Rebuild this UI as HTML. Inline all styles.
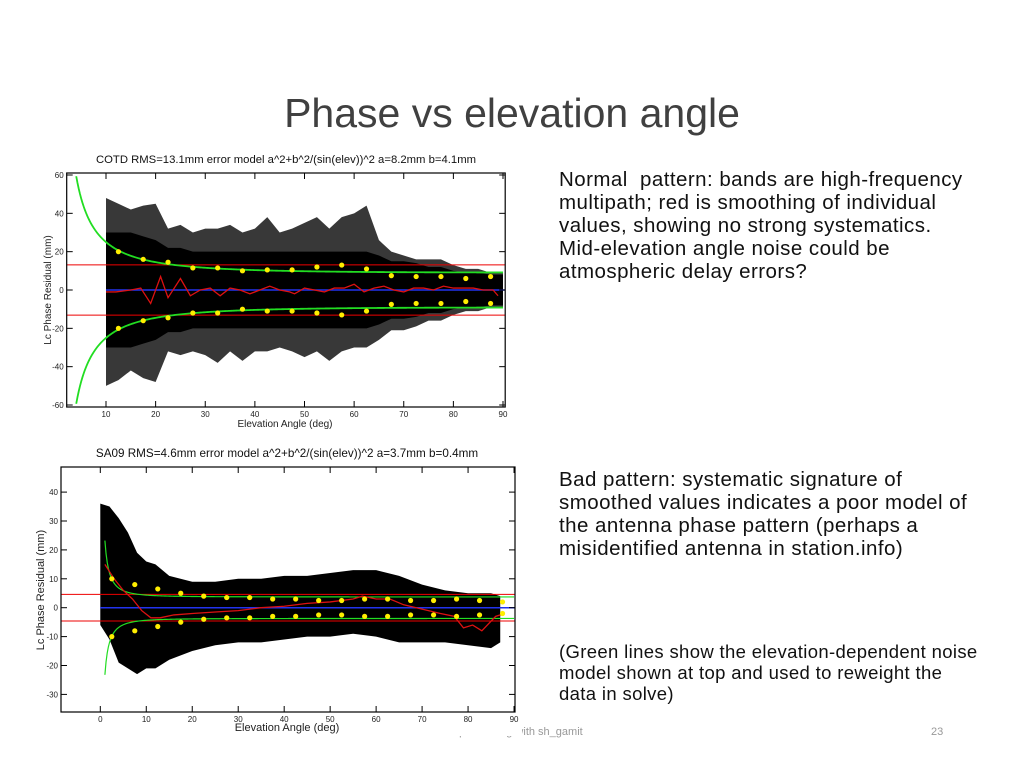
<!DOCTYPE html>
<html><head><meta charset="utf-8">
<style>
body{margin:0;background:#fff;}
#slide{position:relative;width:1024px;height:768px;overflow:hidden;background:#fff;font-family:"Liberation Sans",sans-serif;}
.title{position:absolute;left:0;width:1024px;top:90px;text-align:center;font-size:41px;color:#404040;}
.txt{position:absolute;left:559px;color:#111;font-size:20.5px;letter-spacing:0.45px;line-height:23px;width:415px;}
.foot{position:absolute;top:726px;font-size:11px;color:#999;}
svg{position:absolute;left:0;top:0;}
</style></head>
<body>
<div id="slide">
<div class="title">Phase vs elevation angle</div>
<div class="txt" style="top:168px">Normal&nbsp; pattern: bands are high-frequency multipath; red is smoothing of individual values, showing no strong systematics. Mid-elevation angle noise could be atmospheric delay errors?</div>
<div class="txt" style="top:468px">Bad pattern: systematic signature of smoothed values indicates a poor model of the antenna phase pattern (perhaps a misidentified antenna in station.info)</div>
<div class="txt" style="top:641px;font-size:18.5px;letter-spacing:0.35px;line-height:21px;width:421px">(Green lines show the elevation-dependent noise model shown at top and used to reweight the data in solve)</div>
<div class="foot" style="left:80px">2016/02/27</div>
<div class="foot" style="left:428px">Batch processing with sh_gamit</div>
<div class="foot" style="left:931px">23</div>
<svg id="chart" width="1024" height="768"></svg>
</div>
<script>
// ---- top chart (COTD) data ----
const topElev = [10,12.5,15,17.5,20,22.5,25,27.5,30,32.5,35,37.5,40,42.5,45,47.5,50,52.5,55,57.5,60,62.5,65,67.5,70,72.5,75,77.5,80,82.5,85,87.5,90];
const topUpper = [48,45,42,44,45,32,34,30,32,32,34,30,32,38,30,32,35,38,32,38,40,44,26,20,18,16,16,16,13,11,11,9,9];
const topLower = [-50,-47,-42,-46,-48,-32,-34,-32,-34,-38,-32,-37,-32,-32,-30,-32,-35,-32,-37,-32,-30,-30,-26,-21,-21,-19,-16,-16,-13,-11,-11,-9,-9];
const topInner = [30,30,30,28,26,22,22,20,20,20,20,20,20,20,20,20,20,20,20,20,20,20,18,15,15,14,12,12,10,9,9,8,8];
const topSmoothE = [10,12,15,17,19,21,22.5,25,27,29,31,33,35,37,39,41,43,45,47,48,50,52,54,56,58,60,62,64,66,68,70,72,74,76,78,80,82,84,86,88,89];
const topSmoothV = [-1,-1,0,1,-7,7,-4,6,-3,0,1,-3,1,0,-2,0,2,0,-1,-2,1,0,-1,1,1,3,-1,1,2,0,-1,1,1,0,2,1,1,1,0,0,-3];
const topYelE = [12.5,17.5,22.5,27.5,32.5,37.5,42.5,47.5,52.5,57.5,62.5,67.5,72.5,77.5,82.5,87.5];
const topYelUp = [20,16,14.5,11.5,11.5,10,10.5,10.5,12,13,11,7.5,7,7,6,7];
const topYelLo = [-20,-16,-14.5,-12,-12,-10,-11,-11,-12,-13,-11,-7.5,-7,-7,-6,-7];
const topYTicks = [-60,-40,-20,0,20,40,60];
const topXTicks = [10,20,30,40,50,60,70,80,90];
const topModel = {a:8.2,b:4.1,rms:13.1};
// ---- bottom chart (SA09) data ----
const botElev = [0,2,4,6,8,10,12,15,20,25,30,35,40,45,50,55,60,65,70,75,80,85,87];
const botUpper = [36,35,31,26,19,16,15,11,9,9,10,10,11,11,12,13,13,11,8,6,5,5,4];
const botLower = [-6,-11,-19,-21,-23,-21,-21,-18,-15,-13,-12,-12,-11,-10,-10,-9,-10,-12,-12,-12,-13,-14,-12];
const botSmoothE = [1,3,5,7,9,11,13,16,20,25,30,35,40,45,50,55,57,60,63,66,70,74,77,79,81,83,86,88];
const botSmoothV = [15,10,6,3,-1,-3.5,-3.5,-2.5,-2,-1.5,-1,0,0.5,1.5,2,3,4,3,3,1,-0.5,-2,-3,-7,-6,-8,-3,-2];
const botYelE = [2.5,7.5,12.5,17.5,22.5,27.5,32.5,37.5,42.5,47.5,52.5,57.5,62.5,67.5,72.5,77.5,82.5,87.5];
const botYelUp = [10,8,6.5,5,4,3.5,3.5,3,3,2.5,2.5,3,3,2.5,2.5,3,2.5,2];
const botYelLo = [-10,-8,-6.5,-5,-4,-3.5,-3.5,-3,-3,-2.5,-2.5,-3,-3,-2.5,-2.5,-3,-2.5,-2];
const botYTicks = [-30,-20,-10,0,10,20,30,40];
const botXTicks = [0,10,20,30,40,50,60,70,80,90];
const botModel = {a:3.7,b:0.4,rms:4.6};

const NS='http://www.w3.org/2000/svg';
const svg=document.getElementById('chart');
function mk(tag,attrs,parent){const e=document.createElementNS(NS,tag);for(const k in attrs)e.setAttribute(k,attrs[k]);(parent||svg).appendChild(e);return e;}

function drawChart(o){
  const g=mk('g',{});
  
  
  const bg=mk('rect',{x:o.bx,y:o.by,width:o.bw,height:o.bh,fill:'#fff'},g);
  
  
  const X=e=>o.x0+(e-o.e0)*o.xs, Y=v=>o.y0-v*o.ys;
  let p=o.elev.map((e,i)=>X(e)+','+Y(o.up[i])).join(' ')+' '+o.elev.slice().reverse().map((e,i)=>X(e)+','+Y(o.lo[o.lo.length-1-i])).join(' ');
  const outer=mk('polygon',{points:p,fill:'#000','fill-opacity':o.outerOp},g);
  
  
  if(o.inner){
    p=o.elev.map((e,i)=>X(e)+','+Y(o.inner[i])).join(' ')+' '+o.elev.slice().reverse().map((e,i)=>X(e)+','+Y(-o.inner[o.inner.length-1-i])).join(' ');
    const inn=mk('polygon',{points:p,fill:'#000'},g);
    
    
  }
  [o.model.rms,-o.model.rms].forEach(r=>{
    const l=mk('line',{x1:o.fx,x2:o.fx+o.fw,y1:Y(r),y2:Y(r),stroke:'#e00','stroke-width':1},g);
    
    
  });
  const z=mk('line',{x1:X(o.zeroStart),x2:o.fx+o.fw,y1:Y(0),y2:Y(0),stroke:'#2233ee','stroke-width':1.5},g);
  
  
  [1,-1].forEach(s=>{
    const pts=[];
    for(let e=o.gStart;e<=90;e+=0.25){const v=s*Math.sqrt(o.model.a**2+(o.model.b/Math.sin(e*Math.PI/180))**2);if(Math.abs(v)<=Math.abs(o.vclip))pts.push(X(e)+','+Y(v));}
    const pl=mk('polyline',{points:pts.join(' '),fill:'none',stroke:'#22dd22','stroke-width':o.gw},g);
    
    
  });
  const sm=mk('polyline',{points:o.sE.map((e,i)=>X(e)+','+Y(o.sV[i])).join(' '),fill:'none',stroke:'#dd1111','stroke-width':1.3},g);
  
  
  o.yE.forEach((e,i)=>{
    [o.yU[i],o.yL[i]].forEach(v=>{
      const c=mk('circle',{cx:X(e),cy:Y(v),r:2.6,fill:'#ffee00'},g);
      
      
    });
  });
  const fr=mk('rect',{x:o.fx,y:o.fy,width:o.fw,height:o.fh,fill:'none',stroke:'#000','stroke-width':1.2},g);
  
  
  o.yt.forEach(v=>{
    mk('line',{x1:o.fx,x2:o.fx+6,y1:Y(v),y2:Y(v),stroke:'#000'},g);
    mk('line',{x1:o.fx+o.fw-6,x2:o.fx+o.fw,y1:Y(v),y2:Y(v),stroke:'#000'},g);
    const t=mk('text',{x:o.fx-3,y:Y(v)+3,'text-anchor':'end','font-size':8,fill:'#222'},g);
    t.textContent=v;
    
    
  });
  o.xt.forEach(e=>{
    mk('line',{x1:X(e),x2:X(e),y1:o.fy+o.fh,y2:o.fy+o.fh-6,stroke:'#000'},g);
    mk('line',{x1:X(e),x2:X(e),y1:o.fy,y2:o.fy+6,stroke:'#000'},g);
    const t=mk('text',{x:X(e),y:o.fy+o.fh+10,'text-anchor':'middle','font-size':8,fill:'#222'},g);
    t.textContent=e;
    
    
  });
  const xt=mk('text',{x:o.xlx,y:o.fy+o.fh+o.xld,'text-anchor':'middle','font-size':o.lfs,fill:'#222'},g);
  xt.textContent='Elevation Angle (deg)';
  
  
  const yt=mk('text',{x:0,y:0,'text-anchor':'middle','font-size':o.lfs,fill:'#222',transform:`translate(${o.ylx},${o.yly}) rotate(-90)`},g);
  yt.textContent='Lc Phase Residual (mm)';
  
  
  const tt=mk('text',{x:o.tx,y:o.ty,'text-anchor':'middle','font-size':o.tfs,fill:'#111'},g);
  tt.textContent=o.title;
  
  
}

drawChart({name:'cotd-chart',bx:40,by:150,bw:476,bh:290,
  x0:106,e0:10,xs:4.9625,y0:290,ys:1.9167,vmin:-60,vmax:60,vclip:60,
  fx:66.7,fy:173,fw:438.5,fh:234,
  elev:topElev,up:topUpper,lo:topLower,inner:topInner,outerOp:0.78,
  model:topModel,zeroStart:10,gStart:4,gw:1.8,
  sE:topSmoothE,sV:topSmoothV,yE:topYelE,yU:topYelUp,yL:topYelLo,
  yt:topYTicks,xt:topXTicks,xlx:285,xld:20,ylx:51,yly:290,lfs:10,
  title:'COTD RMS=13.1mm error model a^2+b^2/(sin(elev))^2 a=8.2mm b=4.1mm',tx:286,ty:163,tfs:11.3});

drawChart({name:'sa09-chart',bx:40,by:440,bw:482,bh:296,
  x0:100.3,e0:0,xs:4.597,y0:607.7,ys:2.89,vmin:-36,vmax:48,vclip:24,
  fx:61,fy:467,fw:454,fh:245,
  elev:botElev,up:botUpper,lo:botLower,inner:null,outerOp:1,
  model:botModel,zeroStart:0,gStart:1,gw:1.2,
  sE:botSmoothE,sV:botSmoothV,yE:botYelE,yU:botYelUp,yL:botYelLo,
  yt:botYTicks,xt:botXTicks,xlx:287,xld:19,ylx:44,yly:590,lfs:11,
  title:'SA09 RMS=4.6mm error model a^2+b^2/(sin(elev))^2 a=3.7mm b=0.4mm',tx:287,ty:457,tfs:11.7});
</script>
</body></html>
